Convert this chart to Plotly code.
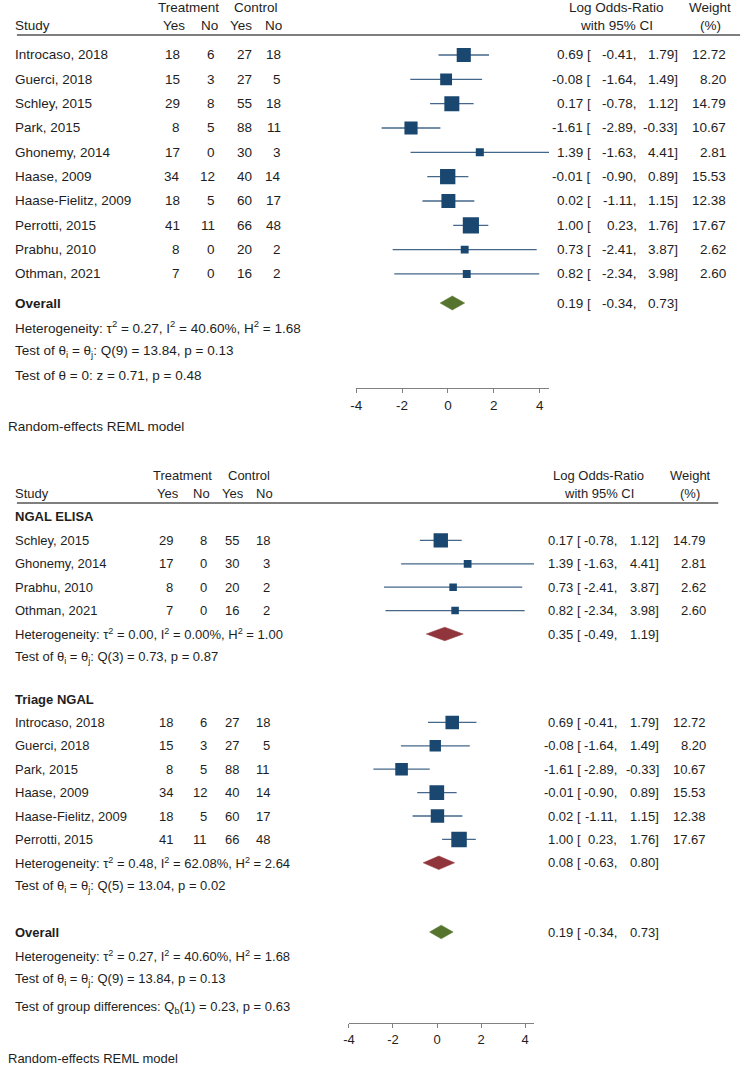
import plotly.graph_objects as go

W, H = 751, 1065
LEFT_DX = -5             # left-anchored annotation correction
FONT = "Arial, Liberation Sans, sans-serif"
TXT = "#1e1e1e"
NAVY = "#1a476f"
CI_COL = "#45678a"
GREEN = "#55752f"
MAROON = "#90353b"
AXIS_COL = "#808080"

# ---------------- data ----------------
studies = ["Introcaso, 2018", "Guerci, 2018", "Schley, 2015", "Park, 2015",
           "Ghonemy, 2014", "Haase, 2009", "Haase-Fielitz, 2009",
           "Perrotti, 2015", "Prabhu, 2010", "Othman, 2021"]
treat_yes = [18, 15, 29, 8, 17, 34, 18, 41, 8, 7]
treat_no = [6, 3, 8, 5, 0, 12, 5, 11, 0, 0]
ctrl_yes = [27, 27, 55, 88, 30, 40, 60, 66, 20, 16]
ctrl_no = [18, 5, 18, 11, 3, 14, 17, 48, 2, 2]
log_or = [0.69, -0.08, 0.17, -1.61, 1.39, -0.01, 0.02, 1.00, 0.73, 0.82]
ci_low = [-0.41, -1.64, -0.78, -2.89, -1.63, -0.90, -1.11, 0.23, -2.41, -2.34]
ci_high = [1.79, 1.49, 1.12, -0.33, 4.41, 0.89, 1.15, 1.76, 3.87, 3.98]
weight = [12.72, 8.20, 14.79, 10.67, 2.81, 15.53, 12.38, 17.67, 2.62, 2.60]

overall_est, overall_lo, overall_hi = 0.19, -0.34, 0.73

group_names = ["NGAL ELISA", "Triage NGAL"]
group_members = [["Schley, 2015", "Ghonemy, 2014", "Prabhu, 2010", "Othman, 2021"],
                 ["Introcaso, 2018", "Guerci, 2018", "Park, 2015", "Haase, 2009",
                  "Haase-Fielitz, 2009", "Perrotti, 2015"]]
group_est = [0.35, 0.08]
group_lo = [-0.49, -0.63]
group_hi = [1.19, 0.80]
group_het = ["Heterogeneity: τ<sup>2</sup> = 0.00, I<sup>2</sup> = 0.00%, H<sup>2</sup> = 1.00",
             "Heterogeneity: τ<sup>2</sup> = 0.48, I<sup>2</sup> = 62.08%, H<sup>2</sup> = 2.64"]
group_q = ["Test of θ<sub>i</sub> = θ<sub>j</sub>: Q(3) = 0.73, p = 0.87",
           "Test of θ<sub>i</sub> = θ<sub>j</sub>: Q(5) = 13.04, p = 0.02"]

overall_het = "Heterogeneity: τ<sup>2</sup> = 0.27, I<sup>2</sup> = 40.60%, H<sup>2</sup> = 1.68"
overall_q = "Test of θ<sub>i</sub> = θ<sub>j</sub>: Q(9) = 13.84, p = 0.13"
overall_z = "Test of θ = 0: z = 0.71, p = 0.48"
group_diff = "Test of group differences: Q<sub>b</sub>(1) = 0.23, p = 0.63"
model_note = "Random-effects REML model"

tick_vals = [-4, -2, 0, 2, 4]
axis_max = max(ci_high)

# ---------------- helpers ----------------
annotations = []
shapes = []
fig = go.Figure()


def fx(X):
    return X / W


def fy(Y):
    return 1 - Y / H


def txt(x, y, s, anchor="left", size=13.5):
    if anchor == "left":
        x = x + LEFT_DX
    annotations.append(dict(x=fx(x), y=fy(y), xref="paper", yref="paper", text=s,
                            showarrow=False, xanchor=anchor, align=anchor,
                            yanchor="middle", borderpad=0, borderwidth=0,
                            font=dict(size=size, color=TXT, family=FONT)))


def hline(x0, x1, y):
    shapes.append(dict(type="line", xref="paper", yref="paper", x0=fx(x0), x1=fx(x1),
                       y0=fy(y), y1=fy(y), line=dict(color="#555555", width=1.6)))


def header(c):
    fs = c["fs"]
    txt(c["treat_c"], c["hy1"], "Treatment", "center", fs)
    txt(c["ctrl_c"], c["hy1"], "Control", "center", fs)
    txt(c["study_x"], c["hy2"], "Study", "left", fs)
    for key, lab in (("ty_c", "Yes"), ("tn_c", "No"), ("cy_c", "Yes"), ("cn_c", "No")):
        txt(c[key], c["hy2"], lab, "center", fs)
    txt(c["lor_c"], c["hy1"], "Log Odds-Ratio", "center", fs)
    txt(c["lor_c"], c["hy2"], "with 95% CI", "center", fs)
    txt(c["w_c"], c["hy1"], "Weight", "center", fs)
    txt(c["w_c"], c["hy2"], "(%)", "center", fs)
    hline(11, c["line_x1"], c["line_y"])


def ci_text(c, y, est, lo, hi, w=None):
    fs = c["fs"]
    txt(c["br_r"], y, f"{est:.2f} [", "right", fs)
    txt(c["lo_r"], y, f"{lo:.2f},", "right", fs)
    txt(c["hi_r"], y, f"{hi:.2f}]", "right", fs)
    if w is not None:
        txt(c["w_r"], y, f"{w:.2f}", "right", fs)


def study_rows(c, idx_list, ys, xa, ya):
    fs = c["fs"]
    cx, cy_ = [], []
    for i, y in zip(idx_list, ys):
        txt(c["study_x"], y, studies[i], "left", fs)
        txt(c["ty_r"], y, str(treat_yes[i]), "right", fs)
        txt(c["tn_r"], y, str(treat_no[i]), "right", fs)
        txt(c["cy_r"], y, str(ctrl_yes[i]), "right", fs)
        txt(c["cn_r"], y, str(ctrl_no[i]), "right", fs)
        ci_text(c, y, log_or[i], ci_low[i], ci_high[i], weight[i])
        cx += [ci_low[i], ci_high[i], None]
        cy_ += [y, y, None]
    fig.add_trace(go.Scatter(x=cx, y=cy_, mode="lines", xaxis=xa, yaxis=ya,
                             line=dict(color=CI_COL, width=1.3), hoverinfo="skip"))
    fig.add_trace(go.Scatter(x=[log_or[i] for i in idx_list], y=ys, mode="markers",
                             xaxis=xa, yaxis=ya, opacity=1, hoverinfo="skip",
                             marker=dict(symbol="square", color=NAVY, opacity=1,
                                         line=dict(width=0),
                                         size=[c["msc"] * (2.7 + 3.2 * weight[i] ** 0.5)
                                               for i in idx_list])))


def diamond(est, lo, hi, y, color, xa, ya, hh=7):
    fig.add_trace(go.Scatter(x=[lo, est, hi, est, lo], y=[y, y - hh, y, y + hh, y],
                             mode="lines", fill="toself", fillcolor=color,
                             line=dict(color=color, width=0.5), xaxis=xa, yaxis=ya,
                             hoverinfo="skip"))


# ---------------- top panel ----------------
top = dict(fs=13.5, study_x=14, ty_r=175, tn_r=211, cy_r=248, cn_r=277,
           treat_c=184, ctrl_c=252.5, ty_c=169, tn_c=205, cy_c=237, cn_c=270,
           hy1=7, hy2=25, line_y=35, line_x1=740, lor_c=615, w_c=710,
           br_r=589.5, lo_r=636, hi_r=677.5, w_r=726, msc=1.0,
           xm4=353, xp4=538, axis_y=387.5)
header(top)
top_rows = [55 + k * 24.33 for k in range(len(studies))]
study_rows(top, list(range(len(studies))), top_rows, "x", "y")
txt(14, 303, "<b>Overall</b>", "left", 13.5)
diamond(overall_est, overall_lo, overall_hi, 303, GREEN, "x", "y")
ci_text(top, 303, overall_est, overall_lo, overall_hi)
txt(14, 327, overall_het, "left", 13.5)
txt(14, 351, overall_q, "left", 13.5)
txt(14, 375, overall_z, "left", 13.5)
txt(7, 426, model_note, "left", 13.5)

# ---------------- bottom panel ----------------
bot = dict(fs=13, study_x=14, ty_r=168.5, tn_r=203, cy_r=234.5, cn_r=266,
           treat_c=178, ctrl_c=244.5, ty_c=163.5, tn_c=197.5, cy_c=229, cn_c=260.5,
           hy1=475, hy2=493, line_y=503, line_x1=718, lor_c=597.5, w_c=690,
           br_r=580, lo_r=616, hi_r=658, w_r=705.5, msc=0.96,
           xm4=345.7, xp4=523.3, axis_y=1022.5)
header(bot)
gstarts = [517, 699]
step = 23.4
for g in range(2):
    y0 = gstarts[g]
    txt(14, y0, f"<b>{group_names[g]}</b>", "left", 13)
    idx = [studies.index(s) for s in group_members[g]]
    ys = [y0 + step * (k + 1) for k in range(len(idx))]
    study_rows(bot, idx, ys, "x2", "y2")
    yd = ys[-1] + step
    txt(14, yd, group_het[g], "left", 13)
    diamond(group_est[g], group_lo[g], group_hi[g], yd, MAROON, "x2", "y2", 6.8)
    ci_text(bot, yd, group_est[g], group_lo[g], group_hi[g])
    txt(14, yd + step, group_q[g], "left", 13)

txt(14, 932, "<b>Overall</b>", "left", 13)
diamond(overall_est, overall_lo, overall_hi, 932, GREEN, "x2", "y2", 6.8)
ci_text(bot, 932, overall_est, overall_lo, overall_hi)
txt(14, 955.5, overall_het, "left", 13)
txt(14, 979, overall_q, "left", 13)
txt(14, 1007, group_diff, "left", 13)
txt(7, 1058.5, model_note, "left", 13)


# ---------------- axes ----------------
def axis_cfg(c, fs, standoff):
    ppu = (c["xp4"] - c["xm4"]) / 8.0
    x0 = c["xm4"]
    x1 = c["xm4"] + (axis_max + 4) * ppu
    xa = dict(domain=[fx(x0), fx(x1)], range=[-4, axis_max], showline=True,
              linecolor=AXIS_COL, linewidth=1.5, ticks="outside", ticklen=4,
              tickwidth=1, tickcolor=AXIS_COL, tickvals=tick_vals,
              ticktext=[str(v) for v in tick_vals], showgrid=False, zeroline=False,
              tickfont=dict(size=fs, color=TXT, family=FONT), fixedrange=True,
              ticklabelstandoff=standoff)
    return xa


xa1 = axis_cfg(top, 13.5, 1)
xa1["anchor"] = "y"
xa2 = axis_cfg(bot, 13, 0)
xa2["anchor"] = "y2"

ya1 = dict(domain=[fy(top["axis_y"]), 1], range=[top["axis_y"], 0], visible=False,
           showgrid=False, zeroline=False, anchor="x", fixedrange=True)
ya2 = dict(domain=[fy(bot["axis_y"]), fy(440)], range=[bot["axis_y"], 440],
           visible=False, showgrid=False, zeroline=False, anchor="x2", fixedrange=True)

fig.update_layout(width=W, height=H, margin=dict(l=0, r=0, t=0, b=0),
                  paper_bgcolor="white", plot_bgcolor="white", showlegend=False,
                  hovermode=False,
                  xaxis=xa1, yaxis=ya1, xaxis2=xa2, yaxis2=ya2,
                  annotations=annotations, shapes=shapes,
                  font=dict(family=FONT, color=TXT))

fig.write_html("out.html", config={"displayModeBar": False, "staticPlot": True},
               post_script="document.body.style.margin='0px';"
                           "document.body.style.overflow='hidden';")
